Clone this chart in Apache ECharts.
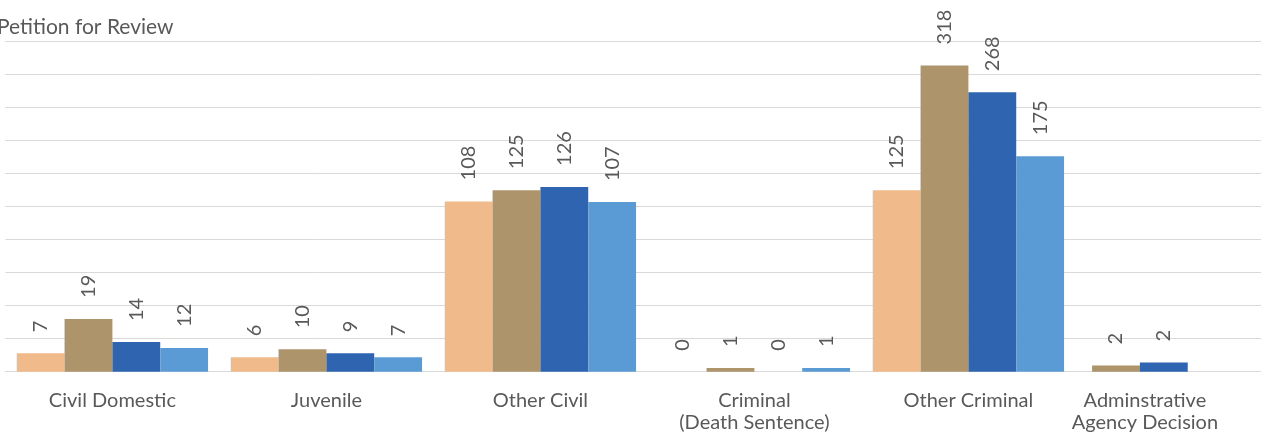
<!DOCTYPE html>
<html>
<head>
<meta charset="utf-8">
<script src="https://cdn.jsdelivr.net/npm/echarts@6/dist/echarts.min.js"></script>
<style>
  html, body { margin: 0; padding: 0; background: #ffffff; overflow: hidden; }
  #chart { width: 1261px; height: 432px; }
</style>
</head>
<body>
<div id="chart"></div>
<script>
// Categories (x axis)
const categories = ['Civil Domestic', 'Juvenile', 'Other Civil', 'Criminal\n(Death Sentence)', 'Other Criminal', 'Adminstrative\nAgency Decision'];
// Series names (legend not visible in the reference)
const seriesNames = ['Series 1', 'Series 2', 'Series 3', 'Series 4'];
// Bar heights as drawn (axis units, gridline every 5)
const heights1 = [2.8, 2.2, 25.8, 0, 27.5, null];
const heights2 = [8.0, 3.4, 27.5, 0.55, 46.4, 0.95];
const heights3 = [4.5, 2.8, 28.0, 0, 42.35, 1.4];
const heights4 = [3.6, 2.2, 25.7, 0.55, 32.65, null];
// Data labels shown on the bars (counts)
const counts1 = [7, 6, 108, 0, 125, null];
const counts2 = [19, 10, 125, 1, 318, 2];
const counts3 = [14, 9, 126, 0, 268, 2];
const counts4 = [12, 7, 107, 1, 175, null];

const heights = [heights1, heights2, heights3, heights4];
const counts = [counts1, counts2, counts3, counts4];
const colors = ['#F0BA8B', '#AE946A', '#2F64B0', '#5B9BD5'];
const FONT = 'Lato';
const LAST = categories.length - 1;

const chart = echarts.init(document.getElementById('chart'), null, { renderer: 'canvas' });

function makeLabel(i) {
  return {
    show: true,
    position: 'top',
    rotate: 90,
    align: 'left',
    verticalAlign: 'middle',
    distance: 21,
    color: '#595959',
    fontFamily: FONT,
    fontSize: 20,
    formatter: (p) => {
      const v = counts[i][p.dataIndex];
      return v === null || v === undefined ? '' : String(v);
    }
  };
}

const series = [];
// Main grid: all categories except the last one
seriesNames.forEach((name, i) => {
  series.push({
    name: name,
    type: 'bar',
    xAxisIndex: 0,
    yAxisIndex: 0,
    data: heights[i].map((v, idx) => (idx === LAST ? null : v)),
    barGap: '0%',
    barCategoryGap: '10.6%',
    itemStyle: { color: colors[i] },
    emphasis: { disabled: true },
    label: makeLabel(i)
  });
});
// Overlay grid (shifted left, as in the reference): last category only
seriesNames.forEach((name, i) => {
  series.push({
    name: name,
    type: 'bar',
    xAxisIndex: 1,
    yAxisIndex: 1,
    data: heights[i].map((v, idx) => (idx === LAST ? v : null)),
    barGap: '0%',
    barCategoryGap: '10.6%',
    itemStyle: { color: colors[i] },
    emphasis: { disabled: true },
    label: makeLabel(i)
  });
});

const axisLabelStyle = {
  color: '#595959',
  fontFamily: FONT,
  fontSize: 20,
  lineHeight: 22,
  margin: 18
};

chart.setOption({
  animation: false,
  backgroundColor: '#ffffff',
  title: {
    text: 'Petition for Review',
    left: -8,
    top: 12,
    textStyle: { color: '#595959', fontFamily: FONT, fontSize: 21, fontWeight: 'normal' }
  },
  legend: { show: false },
  grid: [
    { left: 5.4, width: 1284, top: 41.7, height: 330, containLabel: false, outerBoundsMode: 'none' },
    { left: 5.4 - 42.5, width: 1284, top: 41.7, height: 330, containLabel: false, outerBoundsMode: 'none' }
  ],
  xAxis: [
    {
      type: 'category',
      gridIndex: 0,
      data: categories,
      axisLine: { show: true, lineStyle: { color: '#D9D9D9', width: 1 } },
      axisTick: { show: false },
      axisLabel: Object.assign({}, axisLabelStyle, { interval: (idx) => idx !== LAST })
    },
    {
      type: 'category',
      gridIndex: 1,
      data: categories,
      axisLine: { show: false },
      axisTick: { show: false },
      axisLabel: Object.assign({}, axisLabelStyle, { interval: (idx) => idx === LAST, padding: [0, 0, 0, 10] })
    }
  ],
  yAxis: [
    {
      type: 'value',
      gridIndex: 0,
      min: 0,
      max: 50,
      interval: 5,
      axisLabel: { show: false },
      axisLine: { show: false },
      axisTick: { show: false },
      splitLine: { show: true, lineStyle: { color: '#D9D9D9', width: 1 } }
    },
    {
      type: 'value',
      gridIndex: 1,
      min: 0,
      max: 50,
      interval: 5,
      axisLabel: { show: false },
      axisLine: { show: false },
      axisTick: { show: false },
      splitLine: { show: false }
    }
  ],
  series: series
});
</script>
</body>
</html>
